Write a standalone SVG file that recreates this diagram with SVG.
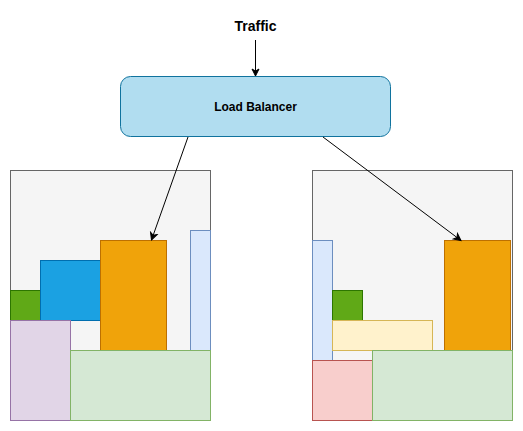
<svg xmlns="http://www.w3.org/2000/svg" width="523" height="431" viewBox="0 0 523 431">
<defs>
<marker id="arr" markerWidth="10" markerHeight="10" refX="8" refY="5" orient="auto" markerUnits="userSpaceOnUse">
<path d="M1,1.5 L8,5 L1,8.5 L3,5 Z" fill="#000" stroke="#000" stroke-width="1"/>
</marker>
</defs>
<style>
.t{font-family:"Liberation Sans",Arial,sans-serif;font-weight:bold;fill:#000;text-anchor:middle}
.c{fill:#f5f5f5;stroke:#666666}
.g{fill:#60a917;stroke:#2d7600}
.b{fill:#1ba1e2;stroke:#006eaf}
.o{fill:#f0a30a;stroke:#bd7000}
.lb{fill:#dae8fc;stroke:#6c8ebf}
.p{fill:#e1d5e7;stroke:#9673a6}
.lg{fill:#d5e8d4;stroke:#82b366}
.y{fill:#fff2cc;stroke:#d6b656}
.r{fill:#f8cecc;stroke:#b85450}
.e{fill:none;stroke:#000;stroke-width:1}
</style>
<rect width="523" height="431" fill="#fff"/>
<g id="traffic"><text class="t" x="255.5" y="31" font-size="14">Traffic</text></g>
<g id="lb">
<rect x="120.5" y="76.5" width="270" height="60" rx="10" fill="#b1ddf0" stroke="#10739e"/>
<text class="t" x="255.5" y="110.5" font-size="12">Load Balancer</text>
</g>
<g id="server1">
<rect class="c" x="10.5" y="170.5" width="200" height="250"/>
<rect class="g" x="10.5" y="290.5" width="30" height="30"/>
<rect class="b" x="40.5" y="260.5" width="60" height="60"/>
<rect class="o" x="100.5" y="240.5" width="66" height="110"/>
<rect class="lb" x="190.5" y="230.5" width="20" height="120"/>
<rect class="p" x="10.5" y="320.5" width="60" height="100"/>
<rect class="lg" x="70.5" y="350.5" width="140" height="70"/>
</g>
<g id="server2">
<rect class="c" x="312.5" y="170.5" width="200" height="250"/>
<rect class="lb" x="312.5" y="240.5" width="20" height="120"/>
<rect class="g" x="332.5" y="290.5" width="30" height="30"/>
<rect class="y" x="332.5" y="320.5" width="100" height="30"/>
<rect class="o" x="444.5" y="240.5" width="66" height="110"/>
<rect class="r" x="312.5" y="360.5" width="60" height="60"/>
<rect class="lg" x="372.5" y="350.5" width="140" height="70"/>
</g>
<g id="connectors">
<line class="e" x1="255.5" y1="40" x2="255.5" y2="76" marker-end="url(#arr)"/>
<line class="e" x1="188" y1="137" x2="151.5" y2="240" marker-end="url(#arr)"/>
<line class="e" x1="323" y1="137" x2="461" y2="240.5" marker-end="url(#arr)"/>
</g>
</svg>
